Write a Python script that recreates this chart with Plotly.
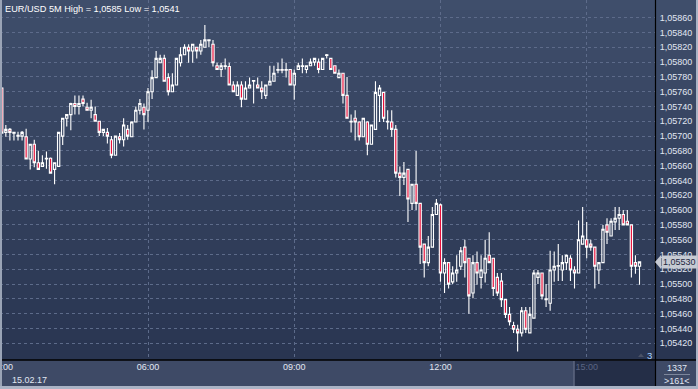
import plotly.graph_objects as go

# ---------------- data (EUR/USD 5M, 15.02.17, bars from 03:00) ----------------
title_text = "EUR/USD 5M High = 1,0585 Low = 1,0541"
date_label = "15.02.17"
time_tick_bars = [0, 36, 72, 108, 144]
time_tick_labels = ["03:00", "06:00", "09:00", "12:00", "15:00"]
price_ticks = [1.0542, 1.0544, 1.0546, 1.0548, 1.0550, 1.0552, 1.0554, 1.0556,
               1.0558, 1.0560, 1.0562, 1.0564, 1.0566, 1.0568, 1.0570, 1.0572,
               1.0574, 1.0576, 1.0578, 1.0580, 1.0582, 1.0584, 1.0586]
last_price = 1.05530
bar_count_label = "1337"
visible_label = "&gt;161&lt;"
corner_label = "3"

opens = [
    1.05765, 1.05705, 1.05709, 1.05704, 1.05700, 1.05700, 1.05699, 1.05669, 1.05689, 1.05664,
    1.05659, 1.05669, 1.05670, 1.05655, 1.05659, 1.05700, 1.05724, 1.05729, 1.05744, 1.05740,
    1.05750, 1.05739, 1.05735, 1.05729, 1.05720, 1.05705, 1.05705, 1.05695, 1.05674, 1.05699,
    1.05695, 1.05709, 1.05699, 1.05719, 1.05735, 1.05739, 1.05735, 1.05760, 1.05779, 1.05799,
    1.05805, 1.05779, 1.05760, 1.05769, 1.05799, 1.05810, 1.05820, 1.05815, 1.05820, 1.05815,
    1.05820, 1.05829, 1.05824, 1.05795, 1.05790, 1.05794, 1.05794, 1.05769, 1.05755, 1.05769,
    1.05750, 1.05765, 1.05774, 1.05769, 1.05765, 1.05755, 1.05769, 1.05774, 1.05789, 1.05790,
    1.05789, 1.05790, 1.05769, 1.05790, 1.05794, 1.05790, 1.05795, 1.05800, 1.05800, 1.05790,
    1.05809, 1.05805, 1.05795, 1.05779, 1.05785, 1.05755, 1.05720, 1.05724, 1.05719, 1.05699,
    1.05719, 1.05689, 1.05709, 1.05755, 1.05759, 1.05719, 1.05719, 1.05709, 1.05650, 1.05644,
    1.05655, 1.05609, 1.05635, 1.05609, 1.05554, 1.05529, 1.05550, 1.05594, 1.05607, 1.05515,
    1.05529, 1.05503, 1.05515, 1.05524, 1.05550, 1.05535, 1.05488, 1.05529, 1.05509, 1.05515,
    1.05539, 1.05535, 1.05509, 1.05504, 1.05479, 1.05459, 1.05444, 1.05439, 1.05434, 1.05464,
    1.05434, 1.05454, 1.05509, 1.05515, 1.05479, 1.05474, 1.05519, 1.05524, 1.05519, 1.05529,
    1.05535, 1.05519, 1.05515, 1.05554, 1.05560, 1.05554, 1.05550, 1.05519, 1.05529, 1.05580,
    1.05565, 1.05584, 1.05589, 1.05594, 1.05585, 1.05580, 1.05529, 1.05524]
highs = [
    1.05766, 1.05715, 1.05711, 1.05706, 1.05706, 1.05707, 1.05710, 1.05689, 1.05695, 1.05680,
    1.05674, 1.05679, 1.05671, 1.05664, 1.05705, 1.05724, 1.05730, 1.05745, 1.05755, 1.05755,
    1.05755, 1.05745, 1.05749, 1.05740, 1.05720, 1.05710, 1.05711, 1.05700, 1.05700, 1.05704,
    1.05724, 1.05715, 1.05720, 1.05740, 1.05750, 1.05744, 1.05765, 1.05789, 1.05815, 1.05810,
    1.05810, 1.05785, 1.05785, 1.05805, 1.05820, 1.05824, 1.05824, 1.05824, 1.05820, 1.05830,
    1.05850, 1.05830, 1.05830, 1.05799, 1.05799, 1.05805, 1.05799, 1.05774, 1.05774, 1.05774,
    1.05774, 1.05779, 1.05775, 1.05779, 1.05774, 1.05769, 1.05795, 1.05795, 1.05799, 1.05805,
    1.05799, 1.05790, 1.05790, 1.05799, 1.05805, 1.05795, 1.05805, 1.05805, 1.05805, 1.05805,
    1.05811, 1.05805, 1.05795, 1.05790, 1.05785, 1.05780, 1.05729, 1.05735, 1.05720, 1.05724,
    1.05720, 1.05715, 1.05774, 1.05769, 1.05760, 1.05735, 1.05735, 1.05715, 1.05659, 1.05665,
    1.05655, 1.05635, 1.05680, 1.05609, 1.05554, 1.05565, 1.05604, 1.05615, 1.05609, 1.05535,
    1.05530, 1.05524, 1.05539, 1.05550, 1.05560, 1.05535, 1.05539, 1.05544, 1.05539, 1.05560,
    1.05570, 1.05535, 1.05515, 1.05515, 1.05479, 1.05469, 1.05449, 1.05445, 1.05469, 1.05469,
    1.05469, 1.05519, 1.05519, 1.05515, 1.05500, 1.05545, 1.05544, 1.05554, 1.05539, 1.05540,
    1.05539, 1.05524, 1.05586, 1.05604, 1.05584, 1.05560, 1.05550, 1.05529, 1.05580, 1.05589,
    1.05589, 1.05604, 1.05604, 1.05600, 1.05600, 1.05580, 1.05539, 1.05530]
lows = [
    1.05703, 1.05699, 1.05694, 1.05694, 1.05694, 1.05694, 1.05669, 1.05655, 1.05658, 1.05655,
    1.05659, 1.05656, 1.05650, 1.05635, 1.05659, 1.05688, 1.05713, 1.05708, 1.05729, 1.05729,
    1.05740, 1.05735, 1.05724, 1.05720, 1.05700, 1.05700, 1.05690, 1.05670, 1.05674, 1.05690,
    1.05686, 1.05695, 1.05699, 1.05719, 1.05729, 1.05709, 1.05719, 1.05750, 1.05779, 1.05799,
    1.05774, 1.05755, 1.05760, 1.05769, 1.05794, 1.05810, 1.05799, 1.05799, 1.05805, 1.05810,
    1.05820, 1.05820, 1.05794, 1.05790, 1.05780, 1.05790, 1.05769, 1.05760, 1.05755, 1.05739,
    1.05750, 1.05765, 1.05744, 1.05765, 1.05750, 1.05750, 1.05769, 1.05774, 1.05785, 1.05785,
    1.05779, 1.05769, 1.05749, 1.05790, 1.05785, 1.05785, 1.05795, 1.05795, 1.05785, 1.05790,
    1.05805, 1.05790, 1.05785, 1.05779, 1.05744, 1.05724, 1.05705, 1.05694, 1.05694, 1.05699,
    1.05674, 1.05689, 1.05709, 1.05719, 1.05719, 1.05709, 1.05699, 1.05644, 1.05619, 1.05634,
    1.05584, 1.05600, 1.05600, 1.05527, 1.05509, 1.05524, 1.05550, 1.05594, 1.05503, 1.05488,
    1.05494, 1.05500, 1.05503, 1.05519, 1.05509, 1.05460, 1.05481, 1.05499, 1.05494, 1.05502,
    1.05529, 1.05484, 1.05484, 1.05469, 1.05454, 1.05444, 1.05434, 1.05409, 1.05429, 1.05434,
    1.05434, 1.05454, 1.05500, 1.05479, 1.05469, 1.05464, 1.05503, 1.05504, 1.05504, 1.05519,
    1.05504, 1.05494, 1.05515, 1.05554, 1.05535, 1.05545, 1.05494, 1.05500, 1.05529, 1.05554,
    1.05565, 1.05573, 1.05573, 1.05580, 1.05580, 1.05509, 1.05514, 1.05499]
closes = [
    1.05704, 1.05709, 1.05705, 1.05705, 1.05701, 1.05705, 1.05669, 1.05689, 1.05664, 1.05655,
    1.05664, 1.05670, 1.05650, 1.05664, 1.05705, 1.05724, 1.05729, 1.05744, 1.05740, 1.05744,
    1.05744, 1.05735, 1.05739, 1.05720, 1.05705, 1.05709, 1.05700, 1.05674, 1.05700, 1.05695,
    1.05715, 1.05700, 1.05719, 1.05735, 1.05744, 1.05729, 1.05760, 1.05779, 1.05805, 1.05805,
    1.05774, 1.05760, 1.05769, 1.05805, 1.05810, 1.05820, 1.05815, 1.05824, 1.05815, 1.05824,
    1.05830, 1.05830, 1.05799, 1.05790, 1.05795, 1.05795, 1.05769, 1.05760, 1.05769, 1.05750,
    1.05765, 1.05769, 1.05775, 1.05765, 1.05760, 1.05769, 1.05774, 1.05785, 1.05790, 1.05789,
    1.05790, 1.05769, 1.05785, 1.05795, 1.05795, 1.05795, 1.05800, 1.05805, 1.05790, 1.05805,
    1.05810, 1.05790, 1.05785, 1.05785, 1.05755, 1.05724, 1.05719, 1.05719, 1.05699, 1.05724,
    1.05689, 1.05715, 1.05759, 1.05765, 1.05724, 1.05720, 1.05709, 1.05650, 1.05644, 1.05650,
    1.05615, 1.05635, 1.05609, 1.05550, 1.05529, 1.05550, 1.05594, 1.05609, 1.05515, 1.05529,
    1.05500, 1.05515, 1.05519, 1.05545, 1.05529, 1.05484, 1.05529, 1.05515, 1.05519, 1.05535,
    1.05529, 1.05494, 1.05488, 1.05479, 1.05459, 1.05449, 1.05439, 1.05434, 1.05464, 1.05439,
    1.05459, 1.05515, 1.05515, 1.05484, 1.05480, 1.05519, 1.05524, 1.05525, 1.05529, 1.05539,
    1.05519, 1.05515, 1.05560, 1.05565, 1.05550, 1.05550, 1.05524, 1.05529, 1.05574, 1.05570,
    1.05585, 1.05589, 1.05594, 1.05580, 1.05580, 1.05524, 1.05524, 1.05530]

# ---------------- layout geometry (pixels) ----------------
W, H = 698, 389
PL, PR, PT, PB = 0, 655, 0, 360
BAR_PX = 4.062
BAR0_PX = 1.77
Y_TOP = 1.058839
Y_BOT = 1.053974


def pxx(px):
    return (px - PL) / (PR - PL)


def pxy(py):
    return (PB - py) / (PB - PT)


bars = list(range(len(opens)))

fig = go.Figure(go.Candlestick(
    x=bars, open=opens, high=highs, low=lows, close=closes,
    increasing=dict(line=dict(color="#ffffff", width=1.1), fillcolor="rgba(0,0,0,0)"),
    decreasing=dict(line=dict(color="#ffffff", width=1.1), fillcolor="#e8103a"),
    whiskerwidth=0, hoverinfo="none",
))

shapes = []
# background gradient bands
top_c = (63, 78, 107)
bot_c = (41, 53, 81)
n = 36
for k in range(n):
    t = (k + 0.5) / n
    c = tuple(round(top_c[i] + (bot_c[i] - top_c[i]) * t) for i in range(3))
    shapes.append(dict(type="rect", xref="paper", yref="paper", layer="below",
                       x0=pxx(-1), x1=pxx(W + 1), y0=pxy(PB * k / n), y1=pxy(PB * (k + 1) / n + 0.5),
                       line=dict(width=0), fillcolor="rgb(%d,%d,%d)" % c))
# bottom strip
shapes.append(dict(type="rect", xref="paper", yref="paper", layer="below",
                   x0=pxx(-1), x1=pxx(W + 1), y0=pxy(360), y1=pxy(H + 1),
                   line=dict(width=0), fillcolor="#3e4a66"))
shapes.append(dict(type="rect", xref="paper", yref="paper", layer="below",
                   x0=pxx(574), x1=pxx(655), y0=pxy(361), y1=pxy(386),
                   line=dict(width=0), fillcolor="#242e47"))
shapes.append(dict(type="line", xref="paper", yref="paper", layer="below",
                   x0=pxx(574), x1=pxx(574), y0=pxy(361), y1=pxy(386),
                   line=dict(width=1.5, color="#5e6780")))
# separators
shapes.append(dict(type="line", xref="paper", yref="paper",
                   x0=pxx(0), x1=pxx(W), y0=pxy(360), y1=pxy(360),
                   line=dict(width=1.5, color="#000000")))
shapes.append(dict(type="line", xref="paper", yref="paper",
                   x0=pxx(655.5), x1=pxx(655.5), y0=pxy(0), y1=pxy(386),
                   line=dict(width=1.2, color="#000000")))
shapes.append(dict(type="line", xref="paper", yref="paper",
                   x0=pxx(664), x1=pxx(690), y0=pxy(374.5), y1=pxy(374.5),
                   line=dict(width=1, color="#7d879c")))
# outer frame
shapes.append(dict(type="rect", xref="paper", yref="paper",
                   x0=pxx(-1), x1=pxx(2), y0=pxy(-1), y1=pxy(H + 1),
                   line=dict(width=0), fillcolor="#9aa4b6"))
shapes.append(dict(type="rect", xref="paper", yref="paper",
                   x0=pxx(696), x1=pxx(W + 1), y0=pxy(-1), y1=pxy(H + 1),
                   line=dict(width=0), fillcolor="#aab3c5"))
shapes.append(dict(type="rect", xref="paper", yref="paper",
                   x0=pxx(-1), x1=pxx(W + 1), y0=pxy(386), y1=pxy(H + 1),
                   line=dict(width=0), fillcolor="#aab3c5"))
# price marker arrow
py_last = (Y_TOP - last_price) / (Y_TOP - Y_BOT) * (PB - PT)
shapes.append(dict(type="path", xref="paper", yref="paper",
                   path="M %f %f L %f %f L %f %f Z" % (pxx(655), pxy(py_last), pxx(661), pxy(py_last - 7),
                                                      pxx(661), pxy(py_last + 7)),
                   line=dict(width=0), fillcolor="#c6cad3"))
# small marker near corner label
shapes.append(dict(type="path", xref="paper", yref="paper",
                   path="M %f %f L %f %f L %f %f Z" % (pxx(638), pxy(357), pxx(644), pxy(357),
                                                      pxx(641), pxy(353.5)),
                   line=dict(width=0), fillcolor="#4a5266"))

txt = "#e1e7f2"
font_fam = "Liberation Sans, Arial, sans-serif"
annotations = [
    dict(text=title_text, xref="paper", yref="paper", x=pxx(3), y=pxy(8.5), xanchor="left",
         yanchor="middle", showarrow=False, font=dict(size=9.2, color="#ffffff", family=font_fam)),
    dict(text=date_label, xref="paper", yref="paper", x=pxx(10), y=pxy(380), xanchor="left",
         yanchor="middle", showarrow=False, font=dict(size=9, color=txt, family=font_fam)),
    dict(text=bar_count_label, xref="paper", yref="paper", x=pxx(676.5), y=pxy(367.5), xanchor="center",
         yanchor="middle", showarrow=False, font=dict(size=9, color=txt, family=font_fam)),
    dict(text=visible_label, xref="paper", yref="paper", x=pxx(676.5), y=pxy(381), xanchor="center",
         yanchor="middle", showarrow=False, font=dict(size=9, color=txt, family=font_fam)),
    dict(text=corner_label, xref="paper", yref="paper", x=pxx(644.5), y=pxy(355), xanchor="left",
         yanchor="middle", showarrow=False, font=dict(size=9.5, color="#a8d4ff", family=font_fam)),
    dict(text=("%.5f" % last_price).replace(".", ","), xref="paper", yref="y", x=pxx(661), y=last_price,
         xanchor="left", yanchor="middle", showarrow=False, bgcolor="#c6cad3", borderpad=1,
         font=dict(size=9, color="#1c2740", family=font_fam)),
]

tick_text = time_tick_labels[:-1] + ["<span style='color:#5b6583'>%s</span>" % time_tick_labels[-1]]

fig.update_layout(
    width=W, height=H,
    margin=dict(l=PL, r=W - PR, t=PT, b=H - PB, autoexpand=False),
    paper_bgcolor="#33405e", plot_bgcolor="rgba(0,0,0,0)",
    showlegend=False, separators=", ",
    boxgap=0.25, boxgroupgap=0.25,
    font=dict(family=font_fam, size=9, color=txt),
    shapes=shapes, annotations=annotations,
    xaxis=dict(range=[-BAR0_PX / BAR_PX, (PR - PL - BAR0_PX) / BAR_PX], rangeslider=dict(visible=False),
               tickmode="array", tickvals=time_tick_bars, ticktext=tick_text,
               ticklabeloverflow="allow", automargin=False,
               showgrid=True, gridcolor="#5d6b8a", griddash="3px,3px", gridwidth=1,
               zeroline=False, showline=False, ticks="", fixedrange=True,
               tickfont=dict(size=9, color=txt, family=font_fam)),
    yaxis=dict(range=[Y_BOT, Y_TOP], side="right", tickmode="array", tickvals=price_ticks,
               tickformat=".5f", showgrid=True, gridcolor="#5d6b8a", griddash="3px,3px", gridwidth=1,
               zeroline=False, showline=False, ticks="outside", ticklen=2, tickcolor="rgba(0,0,0,0)",
               automargin=False, fixedrange=True, tickfont=dict(size=9, color=txt, family=font_fam)),
)

fig.write_html("out.html", config={"displayModeBar": False})
